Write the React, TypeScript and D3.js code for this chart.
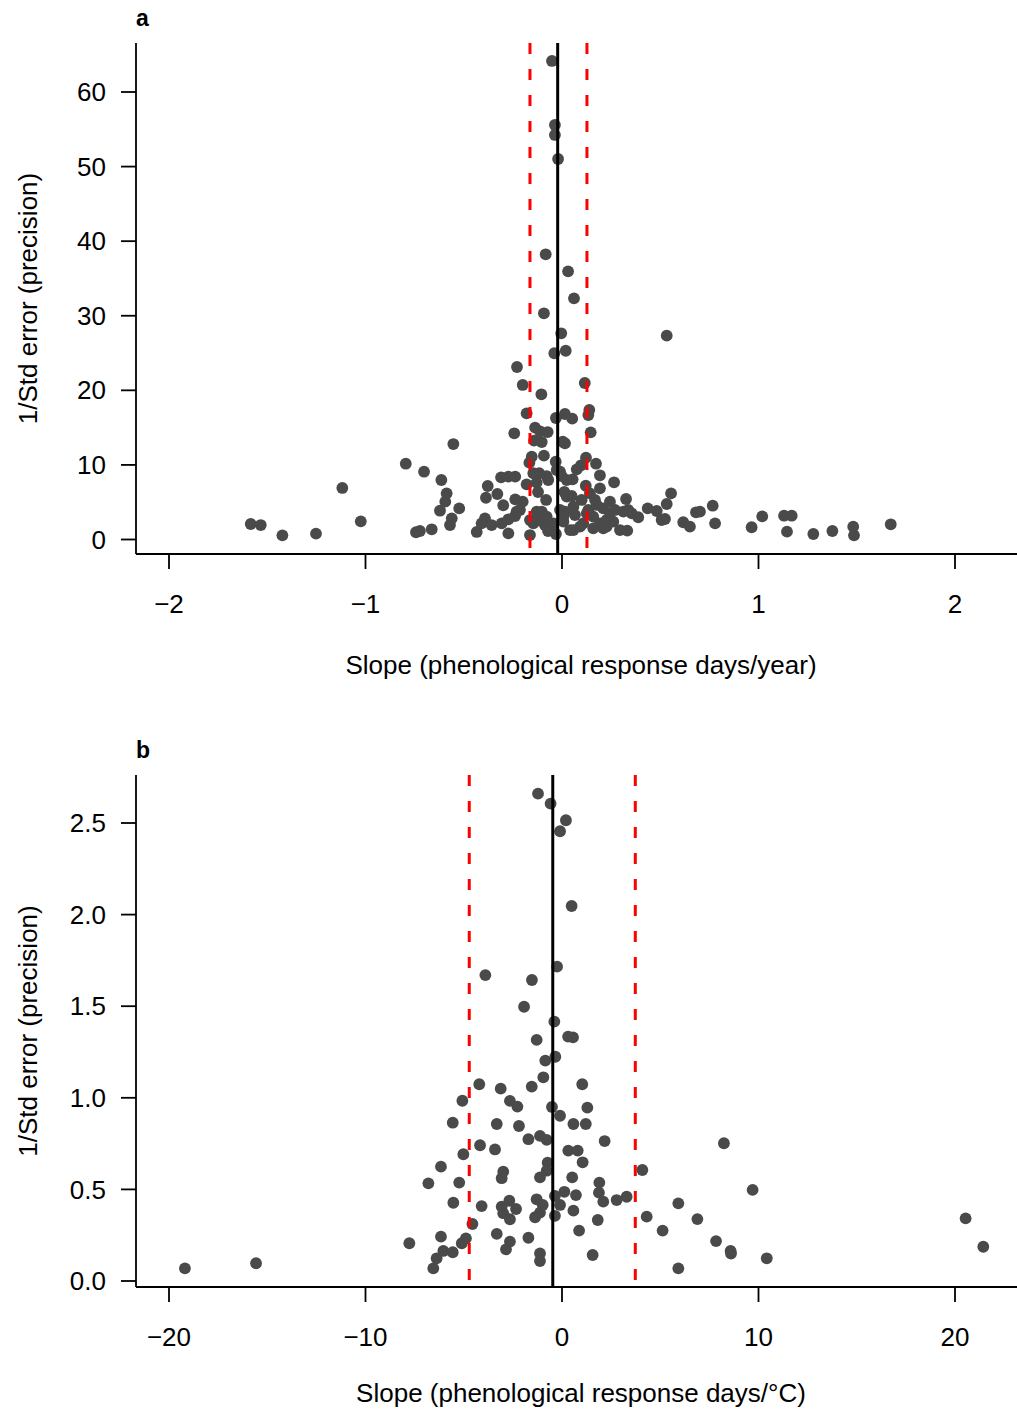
import React from "react";
import * as d3 from "d3";

// ---------- Data ----------
// Panel a: slope (days/year) vs 1/SE
const slopeYearPoints: [number, number][] = [
  [-0.051, 64.16], [-0.036, 55.58], [-0.036, 54.24], [-0.02, 51.02], [-0.083, 38.24],
  [0.031, 35.96], [0.061, 32.34], [-0.092, 30.33], [-0.004, 27.65], [0.533, 27.33],
  [-0.039, 24.97], [0.019, 25.31], [-0.229, 23.13], [-0.2, 20.72], [0.116, 20.98],
  [-0.105, 19.47], [-0.18, 16.92], [-0.031, 16.29], [0.015, 16.83], [0.052, 16.2],
  [0.139, 17.36], [0.134, 16.69], [-0.243, 14.24], [-0.137, 14.99], [-0.112, 14.51],
  [-0.073, 14.41], [0.146, 14.37], [-0.553, 12.8], [-0.142, 13.25], [-0.103, 13.07],
  [0.004, 13.11], [0.015, 12.9], [-0.795, 10.16], [-0.702, 9.09], [-0.614, 7.98],
  [-0.154, 11.1], [-0.092, 11.24], [-0.166, 10.3], [-0.032, 10.43], [-0.027, 9.32],
  [0.122, 10.97], [0.173, 10.16], [0.097, 9.95], [0.075, 9.41], [0.193, 8.61],
  [-0.31, 8.34], [-0.273, 8.42], [-0.238, 8.42], [-0.116, 8.88], [-0.078, 8.51],
  [-0.002, 8.51], [0.054, 8.07], [-0.18, 7.4], [-0.129, 7.62], [-0.07, 7.98],
  [0.121, 7.21], [0.193, 6.86], [0.265, 7.67], [-0.587, 6.19], [-0.594, 5.07],
  [-0.621, 3.86], [-0.523, 4.18], [-0.378, 7.17], [-0.387, 5.6], [-0.329, 6.1],
  [-0.299, 4.59], [-0.238, 5.39], [-0.2, 5.07], [-0.122, 6.37], [-0.081, 5.3],
  [0.012, 6.37], [0.049, 5.83], [0.1, 5.3], [0.142, 6.19], [0.177, 4.63],
  [0.244, 5.07], [0.326, 5.43], [0.555, 6.19], [0.533, 4.76], [0.436, 4.18],
  [0.482, 3.82], [0.524, 2.75], [0.388, 2.98], [0.617, 2.31], [0.651, 1.72],
  [0.682, 3.65], [0.767, 4.53], [0.779, 2.17], [-0.743, 0.97], [-0.723, 1.14],
  [-0.663, 1.37], [-0.57, 1.94], [-0.561, 2.84], [-0.434, 1.01], [-0.392, 2.84],
  [-0.409, 2.17], [-0.358, 1.94], [-0.307, 2.17], [-0.273, 0.83], [-0.239, 3.15],
  [-0.214, 3.96], [-0.163, 0.6], [-0.146, 2.17], [-0.095, 2.39], [-0.103, 3.73],
  [-0.044, 2.17], [0.007, 2.39], [0.015, 3.73], [0.066, 3.28], [0.058, 1.27],
  [0.108, 2.17], [0.134, 3.96], [0.159, 3.06], [0.193, 2.17], [0.227, 1.72],
  [0.261, 2.39], [0.295, 1.27], [0.332, 1.18], [0.27, 3.96], [0.312, 3.73],
  [0.355, 3.51], [0.21, 4.18], [-1.584, 2.08], [-1.533, 1.94], [-1.423, 0.56],
  [-1.252, 0.78], [-1.118, 6.91], [-1.024, 2.44], [0.702, 3.73], [0.965, 1.64],
  [1.019, 3.11], [1.13, 3.19], [1.169, 3.19], [1.145, 1.05], [1.279, 0.74],
  [1.376, 1.14], [1.482, 1.72], [1.486, 0.56], [1.673, 2.04], [-0.231, 3.73],
  [-0.273, 2.71], [-0.163, 2.61], [-0.129, 3.73], [-0.146, 8.88], [-0.01, 9.09],
  [0.024, 7.98], [0.024, 5.74], [-0.01, 3.96], [-0.078, 3.06], [0.007, 3.06],
  [-0.087, 1.94], [-0.121, 2.61], [0.168, 5.3], [0.337, 3.96], [0.507, 2.61],
  [0.126, 3.51], [0.227, 2.61], [0.21, 1.5], [0.159, 1.5], [0.092, 1.72],
  [0.041, 1.27], [0.058, 4.4], [0.244, 3.51], [-0.031, 0.74], [-0.071, 1.14],
];

// Panel b: slope (days/°C) vs 1/SE
const slopeTempPoints: [number, number][] = [
  [-1.22, 2.66], [-0.58, 2.606], [0.2, 2.515], [-0.1, 2.455], [0.49, 2.047],
  [-0.25, 1.716], [-3.9, 1.67], [-1.53, 1.643], [-1.93, 1.497], [-0.39, 1.416],
  [-1.29, 1.316], [0.31, 1.334], [0.56, 1.33], [-0.85, 1.203], [-0.34, 1.224],
  [-0.95, 1.112], [-4.21, 1.074], [-3.12, 1.05], [-1.54, 1.061], [1.03, 1.074],
  [-5.07, 0.984], [-2.65, 0.983], [-2.27, 0.952], [-0.51, 0.95], [-0.1, 0.902],
  [1.29, 0.946], [-5.56, 0.864], [-3.32, 0.857], [-2.19, 0.846], [0.58, 0.857],
  [1.21, 0.857], [-1.71, 0.774], [-1.12, 0.792], [-0.78, 0.77], [2.17, 0.764],
  [-4.17, 0.741], [-3.41, 0.718], [0.32, 0.712], [0.8, 0.712], [-5.02, 0.692],
  [1.05, 0.648], [-0.73, 0.646], [-0.78, 0.602], [-1.12, 0.566], [-2.99, 0.597],
  [-3.07, 0.561], [-6.16, 0.624], [-6.8, 0.533], [-5.23, 0.537], [0.52, 0.566],
  [1.9, 0.537], [4.09, 0.606], [-5.53, 0.427], [-4.09, 0.409], [-3.07, 0.406],
  [-2.68, 0.438], [-2.34, 0.393], [-2.99, 0.37], [-2.65, 0.337], [-1.29, 0.446],
  [-0.98, 0.415], [-1.12, 0.373], [-1.37, 0.348], [-0.36, 0.464], [0.12, 0.487],
  [-0.1, 0.415], [-0.36, 0.356], [0.71, 0.469], [0.58, 0.384], [1.88, 0.482],
  [2.1, 0.433], [2.78, 0.442], [3.29, 0.46], [1.82, 0.333], [4.31, 0.351],
  [-4.56, 0.311], [-7.77, 0.206], [-6.16, 0.242], [-4.89, 0.233], [-5.1, 0.206],
  [-6.04, 0.164], [-5.56, 0.157], [-6.38, 0.124], [-6.55, 0.069], [-3.32, 0.257],
  [-2.65, 0.215], [-2.85, 0.173], [-1.71, 0.236], [-1.12, 0.151], [-1.12, 0.109],
  [0.87, 0.275], [1.56, 0.142], [-19.19, 0.069], [-15.57, 0.097], [8.24, 0.752],
  [5.12, 0.275], [5.92, 0.424], [6.89, 0.338], [5.92, 0.069], [7.84, 0.218],
  [8.58, 0.164], [8.6, 0.15], [9.7, 0.497], [10.42, 0.124], [20.54, 0.342],
  [21.44, 0.187],
];

const xTicksA = [-2, -1, 0, 1, 2];
const yTicksA = [0, 10, 20, 30, 40, 50, 60];
const xTicksB = [-20, -10, 0, 10, 20];
const yTicksB = [0, 0.5, 1.0, 1.5, 2.0, 2.5];

const meanA = -0.022;
const ciA = [-0.163, 0.127];
const meanB = -0.47;
const ciB = [-4.72, 3.73];

const FONT = "'Liberation Sans', Arial, Helvetica, sans-serif";
const POINT_COLOR = "#4a4a4a";

type PanelProps = {
  label: string;
  points: [number, number][];
  x: d3.ScaleLinear<number, number>;
  y: d3.ScaleLinear<number, number>;
  xTicks: number[];
  yTicks: number[];
  xFmt: (n: number) => string;
  yFmt: (n: number) => string;
  left: number;
  right: number;
  top: number;
  bottom: number;
  mean: number;
  ci: number[];
  xTitle: string;
  xTitleOffset: number;
  yTitle: string;
};

function Panel(p: PanelProps) {
  const tick = 15;
  const midY = (p.top + p.bottom) / 2;
  return (
    <g>
      <text x={p.left} y={p.top - 17} fontFamily={FONT} fontWeight="bold" fontSize={23}>
        {p.label}
      </text>
      {p.points.map((d, i) => (
        <circle key={i} cx={p.x(d[0])} cy={p.y(d[1])} r={5.9} fill={POINT_COLOR} />
      ))}
      {p.ci.map((c, i) => (
        <line
          key={"ci" + i}
          x1={p.x(c)}
          x2={p.x(c)}
          y1={p.top}
          y2={p.bottom}
          stroke="#ff0000"
          strokeWidth={3}
          strokeDasharray="11 15"
        />
      ))}
      <line x1={p.x(p.mean)} x2={p.x(p.mean)} y1={p.top} y2={p.bottom} stroke="#000" strokeWidth={3} />
      {/* axes */}
      <line x1={p.left} x2={p.left} y1={p.top} y2={p.bottom} stroke="#000" strokeWidth={1.8} />
      <line x1={p.left} x2={p.right} y1={p.bottom} y2={p.bottom} stroke="#000" strokeWidth={1.8} />
      {p.xTicks.map((t) => (
        <g key={"xt" + t}>
          <line x1={p.x(t)} x2={p.x(t)} y1={p.bottom} y2={p.bottom + tick} stroke="#000" strokeWidth={1.8} />
          <text x={p.x(t)} y={p.bottom + 59} textAnchor="middle" fontFamily={FONT} fontSize={26}>
            {p.xFmt(t)}
          </text>
        </g>
      ))}
      {p.yTicks.map((t) => (
        <g key={"yt" + t}>
          <line x1={p.left - tick} x2={p.left} y1={p.y(t)} y2={p.y(t)} stroke="#000" strokeWidth={1.8} />
          <text x={p.left - 30} y={p.y(t)} dy="0.35em" textAnchor="end" fontFamily={FONT} fontSize={26}>
            {p.yFmt(t)}
          </text>
        </g>
      ))}
      <text x={581} y={p.bottom + p.xTitleOffset} textAnchor="middle" fontFamily={FONT} fontSize={26}>
        {p.xTitle}
      </text>
      <text
        transform={`translate(37,${midY}) rotate(-90)`}
        textAnchor="middle"
        fontFamily={FONT}
        fontSize={26}
      >
        {p.yTitle}
      </text>
    </g>
  );
}

export default function App() {
  const xA = d3.scaleLinear().domain([-2, 2]).range([169, 955]);
  const yA = d3.scaleLinear().domain([0, 60]).range([539.5, 92]);
  const xB = d3.scaleLinear().domain([-20, 20]).range([169, 955]);
  const yB = d3.scaleLinear().domain([0, 2.5]).range([1281, 823]);
  const intFmt = d3.format("d");
  const decFmt = d3.format(".1f");
  return (
    <svg
      width={1017}
      height={1409}
      style={{ position: "absolute", left: 0, top: 0, background: "#fff" }}
    >
      <rect width={1017} height={1409} fill="#fff" />
      <Panel
        label="a"
        points={slopeYearPoints}
        x={xA}
        y={yA}
        xTicks={xTicksA}
        yTicks={yTicksA}
        xFmt={intFmt}
        yFmt={intFmt}
        left={136}
        right={1017}
        top={43}
        bottom={554}
        mean={meanA}
        ci={ciA}
        xTitle="Slope (phenological response days/year)"
        xTitleOffset={120}
        yTitle="1/Std error (precision)"
      />
      <Panel
        label="b"
        points={slopeTempPoints}
        x={xB}
        y={yB}
        xTicks={xTicksB}
        yTicks={yTicksB}
        xFmt={intFmt}
        yFmt={decFmt}
        left={136}
        right={1017}
        top={775}
        bottom={1287}
        mean={meanB}
        ci={ciB}
        xTitle="Slope (phenological response days/°C)"
        xTitleOffset={115}
        yTitle="1/Std error (precision)"
      />
    </svg>
  );
}
